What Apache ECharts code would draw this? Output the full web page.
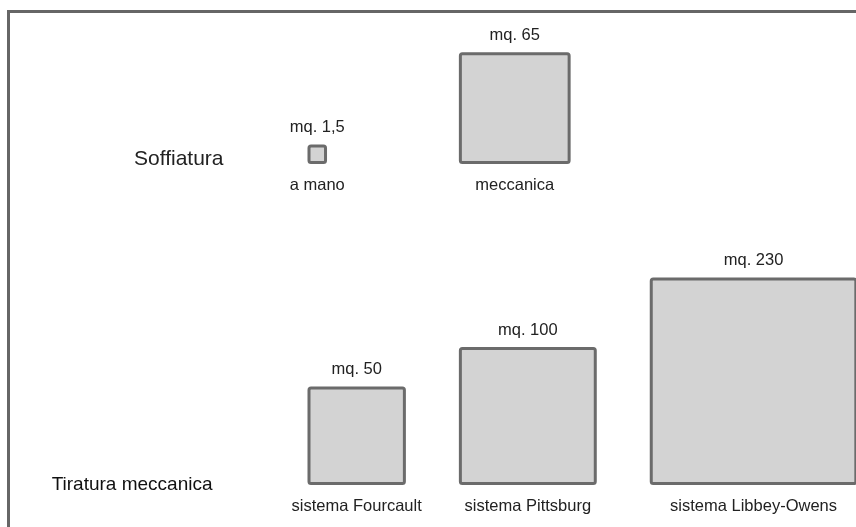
<!DOCTYPE html>
<html>
<head>
<meta charset="utf-8">
<script src="https://cdn.jsdelivr.net/npm/echarts@6/dist/echarts.min.js"></script>
<style>
html,body{margin:0;padding:0;background:#fff;}
#chart{width:856px;height:527px;}
</style>
</head>
<body>
<div id="chart"></div>
<script>
// ---- data ----
var rows = ['Tiratura meccanica', 'Soffiatura'];           // category axis (bottom to top)
var itemNames = ['a mano', 'meccanica', 'sistema Fourcault', 'sistema Pittsburg', 'sistema Libbey-Owens'];
var itemRows = ['Soffiatura', 'Soffiatura', 'Tiratura meccanica', 'Tiratura meccanica', 'Tiratura meccanica'];
var itemColumns = [0, 1, 0, 1, 2];
var itemValues = [1.5, 65, 50, 100, 230];                   // mq

// ---- layout helpers (sizes in sqrt-of-area units) ----
var GAP = 4.15;
var colMax = [];
itemValues.forEach(function (v, i) {
  var c = itemColumns[i];
  colMax[c] = Math.max(colMax[c] || 0, Math.sqrt(v));
});
var colLeft = [];
var acc = 0;
for (var c = 0; c < colMax.length; c++) { colLeft[c] = acc; acc += colMax[c] + GAP; }

var seriesData = itemValues.map(function (v, i) {
  return { value: [itemColumns[i], rows.indexOf(itemRows[i]), v], name: itemNames[i] };
});

function fmt(v) { return 'mq. ' + String(v).replace('.', ','); }

var FONT = "'Liberation Sans', Arial, sans-serif";
var chart = echarts.init(document.getElementById('chart'), null, { renderer: 'canvas' });
chart.setOption({
  animation: false,
  backgroundColor: '#fff',
  graphic: [{
    type: 'rect', left: 6, top: 9, silent: true,
    shape: { width: 900, height: 600 },
    style: { fill: 'none', stroke: '#666', lineWidth: 3 }
  }],
  grid: { left: 307.5, right: 0, top: 164, bottom: 42 },
  xAxis: { type: 'value', min: 0, max: 40.66, show: false },
  yAxis: {
    type: 'category', data: rows, boundaryGap: false,
    axisLine: { show: false }, axisTick: { show: false }, splitLine: { show: false },
    axisLabel: {
      margin: 84,
      formatter: function (v) { return v === 'Soffiatura' ? '{s|' + v + '}' : '{t|' + v + '}'; },
      rich: {
        s: { fontFamily: FONT, fontSize: 21, color: '#222', padding: [0, 0, 10, 0] },
        t: { fontFamily: FONT, fontSize: 19, color: '#111', padding: [0, 11, 0, 0] }
      }
    }
  },
  series: [{
    type: 'custom',
    data: seriesData,
    renderItem: function (params, api) {
      var col = api.value(0), row = api.value(1), v = api.value(2);
      var base = api.coord([colLeft[col], row]);
      var side = api.size([Math.sqrt(v), 0])[0];
      var lw = 3;
      var x = base[0] + lw / 2, yb = base[1] - lw / 2;
      var top = yb - side;
      var cx = x + side / 2;
      var name = itemNames[params.dataIndex];
      return {
        type: 'group',
        children: [
          { type: 'rect', shape: { x: x, y: top, width: side, height: side, r: 2 },
            style: { fill: '#d3d3d3', stroke: '#6b6b6b', lineWidth: lw } },
          { type: 'text', style: { text: fmt(v), x: cx, y: top - 1.5 - 17, align: 'center', verticalAlign: 'middle',
              fontFamily: FONT, fontSize: 16.5, fill: '#222' } },
          { type: 'text', style: { text: name, x: cx, y: yb + 1.5 + 21, align: 'center', verticalAlign: 'middle',
              fontFamily: FONT, fontSize: 16.5, fill: '#222' } }
        ]
      };
    }
  }]
});
</script>
</body>
</html>
